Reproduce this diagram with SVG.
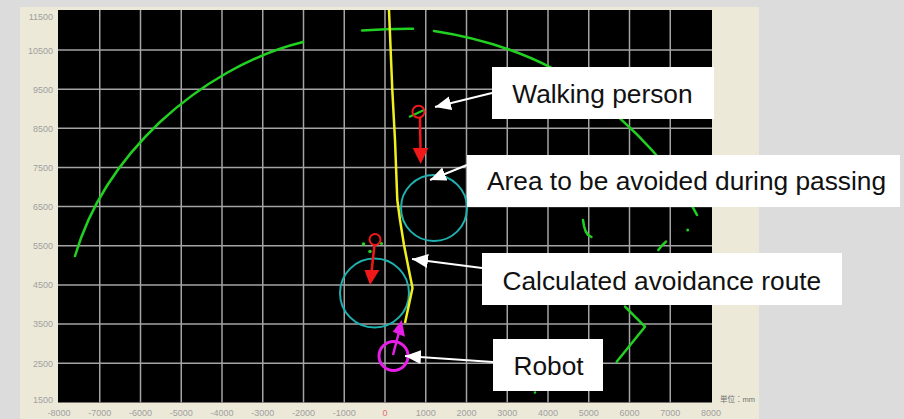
<svg xmlns="http://www.w3.org/2000/svg" width="904" height="419" viewBox="0 0 904 419">
<style>
.grid{stroke:#a4a4a4;stroke-width:1.5}
.ax{font-family:"Liberation Sans",Arial,sans-serif;font-size:9px;fill:#a0a0a0}
.ay{text-anchor:end}
.axx{text-anchor:middle}
.scan{fill:none;stroke:#22d022;stroke-width:2.5;stroke-linecap:round;stroke-linejoin:round}
.dot{fill:#22d022}
.zone{fill:none;stroke:#1fb0b0;stroke-width:2}
.box{fill:#ffffff}
.lbl{font-family:"Liberation Sans",Arial,sans-serif;font-size:26.3px;fill:#111111}
.conn{stroke:#ffffff;stroke-width:2;fill:none}
</style>
<defs>
<marker id="wa" markerUnits="userSpaceOnUse" markerWidth="17" markerHeight="15" refX="16" refY="7" orient="auto">
<path d="M0,0 L16,7 L0,14 z" fill="#ffffff"/>
</marker>
</defs>
<rect x="0" y="0" width="904" height="419" fill="#dcdcdc"/>
<rect x="20" y="7" width="739" height="412" fill="#ece9d8"/>
<rect x="58" y="10" width="654" height="392.5" fill="#000000"/>
<g id="grid">
<line class="grid" x1="99.75" y1="10" x2="99.75" y2="402.5"/>
<line class="grid" x1="140.5" y1="10" x2="140.5" y2="402.5"/>
<line class="grid" x1="181.25" y1="10" x2="181.25" y2="402.5"/>
<line class="grid" x1="222" y1="10" x2="222" y2="402.5"/>
<line class="grid" x1="262.75" y1="10" x2="262.75" y2="402.5"/>
<line class="grid" x1="303.5" y1="10" x2="303.5" y2="402.5"/>
<line class="grid" x1="344.25" y1="10" x2="344.25" y2="402.5"/>
<line class="grid" x1="385" y1="10" x2="385" y2="402.5"/>
<line class="grid" x1="425.75" y1="10" x2="425.75" y2="402.5"/>
<line class="grid" x1="466.5" y1="10" x2="466.5" y2="402.5"/>
<line class="grid" x1="507.25" y1="10" x2="507.25" y2="402.5"/>
<line class="grid" x1="548" y1="10" x2="548" y2="402.5"/>
<line class="grid" x1="588.75" y1="10" x2="588.75" y2="402.5"/>
<line class="grid" x1="629.5" y1="10" x2="629.5" y2="402.5"/>
<line class="grid" x1="670.25" y1="10" x2="670.25" y2="402.5"/>
<line class="grid" x1="58" y1="50" x2="712" y2="50"/>
<line class="grid" x1="58" y1="89.2" x2="712" y2="89.2"/>
<line class="grid" x1="58" y1="128.2" x2="712" y2="128.2"/>
<line class="grid" x1="58" y1="167.4" x2="712" y2="167.4"/>
<line class="grid" x1="58" y1="206.6" x2="712" y2="206.6"/>
<line class="grid" x1="58" y1="245.8" x2="712" y2="245.8"/>
<line class="grid" x1="58" y1="284.9" x2="712" y2="284.9"/>
<line class="grid" x1="58" y1="324.1" x2="712" y2="324.1"/>
<line class="grid" x1="58" y1="363.3" x2="712" y2="363.3"/>
</g>
<g id="axis-y" class="ax ay">
<text x="53" y="20">11500</text>
<text x="53" y="53.5">10500</text>
<text x="53" y="92.5">9500</text>
<text x="53" y="131.5">8500</text>
<text x="53" y="170.7">7500</text>
<text x="53" y="210">6500</text>
<text x="53" y="249">5500</text>
<text x="53" y="288.2">4500</text>
<text x="53" y="327.4">3500</text>
<text x="53" y="366.6">2500</text>
<text x="53" y="403">1500</text>
</g>
<g id="axis-x" class="ax axx">
<text x="59" y="416">-8000</text>
<text x="99.75" y="416">-7000</text>
<text x="140.5" y="416">-6000</text>
<text x="181.25" y="416">-5000</text>
<text x="222" y="416">-4000</text>
<text x="262.75" y="416">-3000</text>
<text x="303.5" y="416">-2000</text>
<text x="344.25" y="416">-1000</text>
<text x="385" y="416" style="fill:#e87070">0</text>
<text x="425.75" y="416">1000</text>
<text x="466.5" y="416">2000</text>
<text x="507.25" y="416">3000</text>
<text x="548" y="416">4000</text>
<text x="588.75" y="416">5000</text>
<text x="629.5" y="416">6000</text>
<text x="670.25" y="416">7000</text>
<text x="711" y="416">8000</text>
</g>
<text x="720" y="401.5" style="font-family:'Liberation Sans','Noto Sans CJK JP',sans-serif;font-size:7.5px;fill:#707070">単位：mm</text>
<g id="scan">
<path class="scan" d="M75,256 C90,205 120,160 160,122 C200,85 250,55 303,42"/>
<path class="scan" d="M362,30.5 Q388,28.5 413,28.7"/>
<path class="scan" d="M434,31 C480,38 540,55 583,88 C620,116 670,160 697,215"/>
<polyline class="scan" points="583,220 584,226 585.5,231 588,235 591.5,237"/>
<circle class="dot" cx="687.7" cy="230" r="1.5"/>
<polyline class="scan" points="666,241.7 662,245.5 658.3,250"/>
<polyline class="scan" points="625,306.7 645,326.7 616.7,361.7"/>
<circle class="dot" cx="535" cy="392.5" r="1.3"/>
</g>
<g id="avoid-zones">
<circle class="zone" cx="434" cy="208" r="33"/>
<circle class="zone" cx="374.5" cy="293" r="34.5"/>
</g>
<g id="route">
<polyline points="389,10 392.3,90 395,140 397.3,200 400,220 404,245 408.5,268 412.5,288 405,323" fill="none" stroke="#f0f020" stroke-width="2.5" stroke-linejoin="round"/>
</g>
<g id="person-1">
<line x1="409" y1="117" x2="424" y2="110" stroke="#22d022" stroke-width="2"/>
<circle cx="418.5" cy="111.7" r="6" fill="none" stroke="#f01818" stroke-width="2"/>
<line x1="420" y1="118" x2="420.5" y2="150" stroke="#f01818" stroke-width="2.5"/>
<polygon points="412.7,148 428.3,148 420.7,164" fill="#f01818"/>
</g>
<g id="person-2">
<circle class="dot" cx="363.5" cy="244" r="1.8"/>
<circle class="dot" cx="370" cy="251.5" r="1.8"/>
<circle class="dot" cx="381.5" cy="243.5" r="1.6"/>
<circle cx="375" cy="239.5" r="5.5" fill="none" stroke="#f01818" stroke-width="2"/>
<line x1="374.5" y1="245" x2="371.5" y2="272" stroke="#f01818" stroke-width="2.5"/>
<polygon points="364.5,270 379.5,270 370,285" fill="#f01818"/>
</g>
<g id="robot">
<circle cx="393.5" cy="356" r="14.5" fill="none" stroke="#e61ee6" stroke-width="3"/>
<line x1="393" y1="355" x2="399" y2="332" stroke="#e61ee6" stroke-width="2.5"/>
<polygon points="401.7,320 392.7,331.7 405,336.7" fill="#e61ee6"/>
</g>
<g id="connectors">
<line class="conn" x1="492" y1="93" x2="435" y2="107" marker-end="url(#wa)"/>
<line class="conn" x1="467" y1="165" x2="430" y2="180" marker-end="url(#wa)"/>
<line class="conn" x1="482" y1="268" x2="412" y2="259" marker-end="url(#wa)"/>
<line class="conn" x1="493" y1="362" x2="405" y2="356" marker-end="url(#wa)"/>
</g>
<g id="label-walking">
<rect class="box" x="492" y="67" width="222" height="52"/>
<text class="lbl" x="512.3" y="103">Walking person</text>
</g>
<g id="label-area">
<rect class="box" x="467" y="155" width="433" height="52"/>
<text class="lbl" x="487" y="190">Area to be avoided during passing</text>
</g>
<g id="label-route">
<rect class="box" x="482" y="253" width="360" height="52"/>
<text class="lbl" x="502.5" y="289.5">Calculated avoidance route</text>
</g>
<g id="label-robot">
<rect class="box" x="493" y="339" width="110" height="52"/>
<text class="lbl" x="513.5" y="375">Robot</text>
</g>
</svg>
